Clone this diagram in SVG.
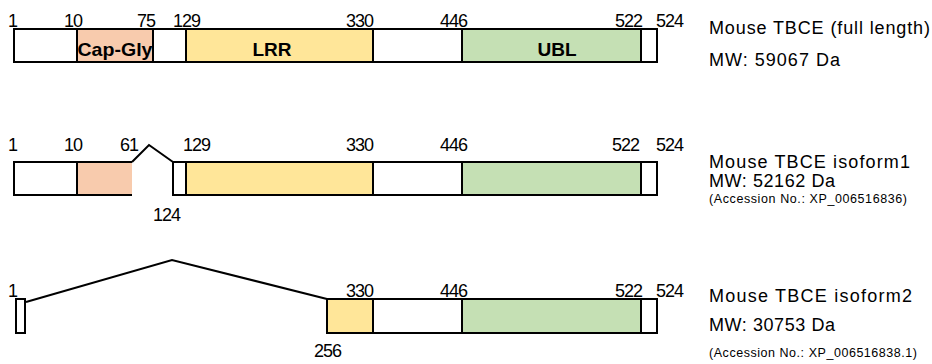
<svg xmlns="http://www.w3.org/2000/svg" width="932" height="364" viewBox="0 0 932 364">
<style>
.seg{stroke:#000;stroke-width:2}
.w{fill:#fff}
.cap{fill:#F8CBAD}
.lrr{fill:#FFE699}
.ubl{fill:#C5E0B4}
.num{font-family:"Liberation Sans",Arial,sans-serif;font-size:18px;letter-spacing:-1px;fill:#000}
.dom{font-family:"Liberation Sans",Arial,sans-serif;font-size:19px;font-weight:bold;fill:#000;text-anchor:middle}
.lab{font-family:"Liberation Sans",Arial,sans-serif;font-size:18px;fill:#000}
.acc{font-family:"Liberation Sans",Arial,sans-serif;font-size:12.5px;fill:#000}
.ln{fill:none;stroke:#000;stroke-width:2}
</style>
<rect width="932" height="364" fill="#fff"/>
<g id="full">
<rect class="seg w" x="14" y="29" width="63" height="33"/>
<rect class="seg cap" x="77" y="29" width="76" height="33"/>
<rect class="seg w" x="153" y="29" width="33" height="33"/>
<rect class="seg lrr" x="186" y="29" width="187" height="33"/>
<rect class="seg w" x="373" y="29" width="89" height="33"/>
<rect class="seg ubl" x="462" y="29" width="179" height="33"/>
<rect class="seg w" x="641" y="29" width="16" height="33"/>
<text class="dom" x="115" y="56" textLength="75" lengthAdjust="spacingAndGlyphs">Cap-Gly</text>
<text class="dom" x="272" y="56">LRR</text>
<text class="dom" x="557" y="56">UBL</text>
<text class="num" x="8" y="27">1</text>
<text class="num" x="64" y="27">10</text>
<text class="num" x="137" y="27">75</text>
<text class="num" x="173" y="27">129</text>
<text class="num" x="346" y="27">330</text>
<text class="num" x="440" y="27">446</text>
<text class="num" x="615" y="27">522</text>
<text class="num" x="656" y="27">524</text>
<text class="lab" x="709" y="34" textLength="221" lengthAdjust="spacing">Mouse TBCE  (full length)</text>
<text class="lab" x="709" y="66" textLength="131" lengthAdjust="spacing">MW: 59067  Da</text>
</g>
<g id="isoform1">
<rect class="seg w" x="14" y="162" width="63" height="33"/>
<rect class="cap" x="77" y="162" width="55" height="33"/>
<path class="ln" d="M132 162 H77 V195 H132"/>
<rect class="seg w" x="173" y="162" width="13" height="33"/>
<rect class="seg lrr" x="186" y="162" width="187" height="33"/>
<rect class="seg w" x="373" y="162" width="89" height="33"/>
<rect class="seg ubl" x="462" y="162" width="179" height="33"/>
<rect class="seg w" x="641" y="162" width="16" height="33"/>
<text class="num" x="8" y="151">1</text>
<text class="num" x="64" y="151">10</text>
<text class="num" x="120" y="151">61</text>
<text class="num" x="183" y="151">129</text>
<text class="num" x="153" y="221">124</text>
<text class="num" x="346" y="151">330</text>
<text class="num" x="440" y="151">446</text>
<text class="num" x="612" y="151">522</text>
<text class="num" x="656" y="151">524</text>
<text class="lab" x="709" y="168" textLength="201" lengthAdjust="spacing">Mouse TBCE  isoform1</text>
<text class="lab" x="709" y="187" textLength="126" lengthAdjust="spacing">MW: 52162  Da</text>
<text class="acc" x="709" y="203" textLength="198" lengthAdjust="spacing">(Accession No.: XP_006516836)</text>
</g>
<g id="isoform2">
<rect class="seg w" x="16" y="299" width="9" height="34"/>
<rect class="seg lrr" x="327" y="299" width="46" height="34"/>
<rect class="seg w" x="373" y="299" width="89" height="34"/>
<rect class="seg ubl" x="462" y="299" width="179" height="34"/>
<rect class="seg w" x="641" y="299" width="16" height="34"/>
<text class="num" x="8" y="297">1</text>
<text class="num" x="314" y="357">256</text>
<text class="num" x="346" y="297">330</text>
<text class="num" x="440" y="297">446</text>
<text class="num" x="615" y="297">522</text>
<text class="num" x="656" y="297">524</text>
<text class="lab" x="709" y="302" textLength="203" lengthAdjust="spacing">Mouse TBCE  isoform2</text>
<text class="lab" x="709" y="331" textLength="126" lengthAdjust="spacing">MW: 30753  Da</text>
<text class="acc" x="709" y="357" textLength="208" lengthAdjust="spacing">(Accession No.: XP_006516838.1)</text>
</g>
<g id="connectors">
<polyline class="ln" points="132,162 149,145 173,162"/>
<polyline class="ln" points="26,302 172,260 327,299"/>
</g>
</svg>
